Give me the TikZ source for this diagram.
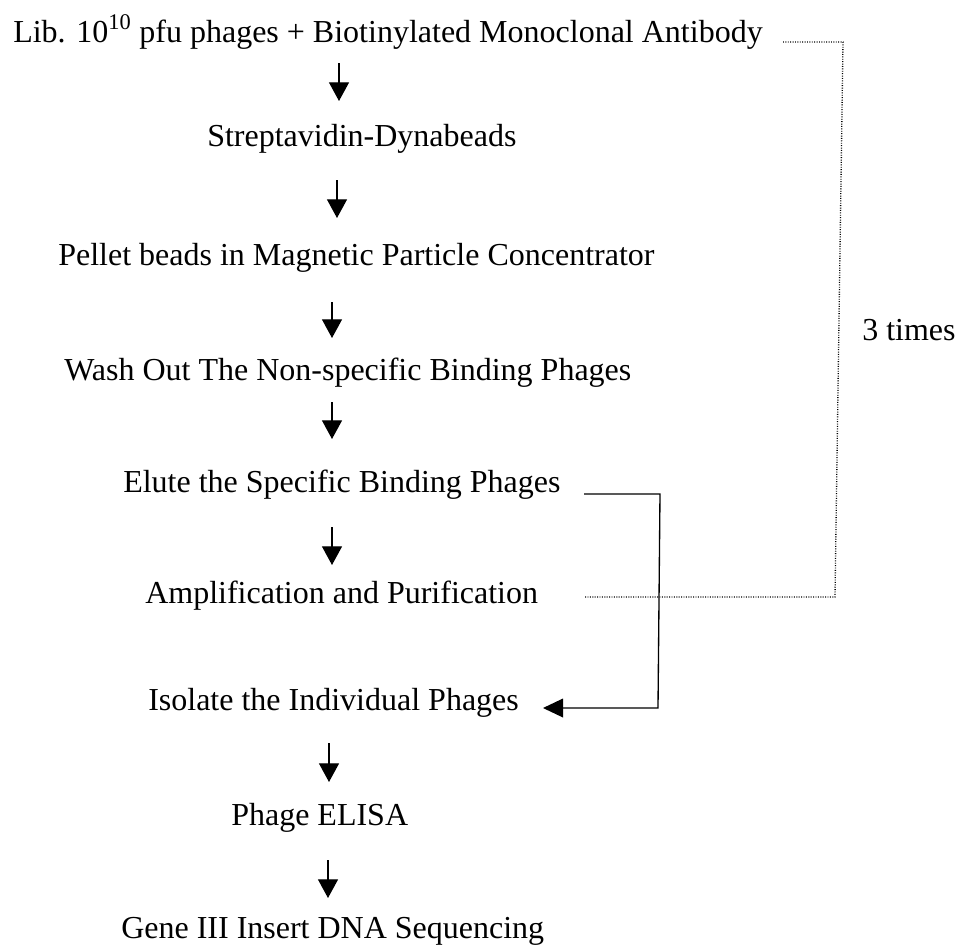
\documentclass[tikz,border=0pt]{standalone}
\usepackage{fontspec}
\setmainfont{Liberation Serif}
\usetikzlibrary{arrows.meta}
\begin{document}
\begin{tikzpicture}[x=0.75pt,y=-0.75pt,
  lbl/.style={anchor=base west,inner sep=0pt,font=\fontsize{24}{28}\selectfont},
  arr/.style={line width=0.9pt,-{Triangle[width=15pt,length=14pt]}},
  solidline/.style={line width=1pt},
  dotline/.style={line width=1pt,dash pattern=on 0.7pt off 1.1pt}]
\useasboundingbox (0,0) rectangle (961,947);
% step texts
\node[lbl] (lib) at (13,42) {Lib. 10\textsuperscript{10} pfu phages + Biotinylated Monoclonal Antibody};
\node[lbl] (strep) at (207,146) {Streptavidin-Dynabeads};
\node[lbl] (pellet) at (58,265) {Pellet beads in Magnetic Particle Concentrator};
\node[lbl] (wash) at (64,380) {Wash Out The Non-specific Binding Phages};
\node[lbl] (elute) at (123,492) {Elute the Specific Binding Phages};
\node[lbl] (amp) at (145,603) {Amplification and Purification};
\node[lbl] (iso) at (148,710) {Isolate the Individual Phages};
\node[lbl] (elisa) at (231,825) {Phage ELISA};
\node[lbl] (gene) at (121,938) {Gene III Insert DNA Sequencing};
\node[lbl] (times) at (862,340) {3 times};
% arrow end points
\coordinate (a1s) at (339,63);  \coordinate (a1e) at (339,101);
\coordinate (a2s) at (337,180); \coordinate (a2e) at (337,218);
\coordinate (a3s) at (332,302); \coordinate (a3e) at (332,338);
\coordinate (a4s) at (332,402); \coordinate (a4e) at (332,439);
\coordinate (a5s) at (332,527); \coordinate (a5e) at (332,565);
\coordinate (a6s) at (329,743); \coordinate (a6e) at (329,782);
\coordinate (a7s) at (328,860); \coordinate (a7e) at (328,898);
\draw[arr] (a1s) -- (a1e);
\draw[arr] (a2s) -- (a2e);
\draw[arr] (a3s) -- (a3e);
\draw[arr] (a4s) -- (a4e);
\draw[arr] (a5s) -- (a5e);
\draw[arr] (a6s) -- (a6e);
\draw[arr] (a7s) -- (a7e);
% solid bracket elute -> isolate
\coordinate (bs) at (584,494);
\coordinate (bc1) at (660,494);
\coordinate (bc2) at (658,708);
\coordinate (be) at (543,708);
\draw[solidline,-{Triangle[width=14pt,length=15pt]}] (bs) -- (bc1) -- (bc2) -- (be);
% dotted loop (3 times)
\coordinate (ds) at (783,42);
\coordinate (dc1) at (843,42);
\coordinate (dc2) at (835,597);
\coordinate (de) at (585,597);
\draw[dotline] (ds) -- (dc1) -- (dc2) -- (de);
\end{tikzpicture}
\end{document}
